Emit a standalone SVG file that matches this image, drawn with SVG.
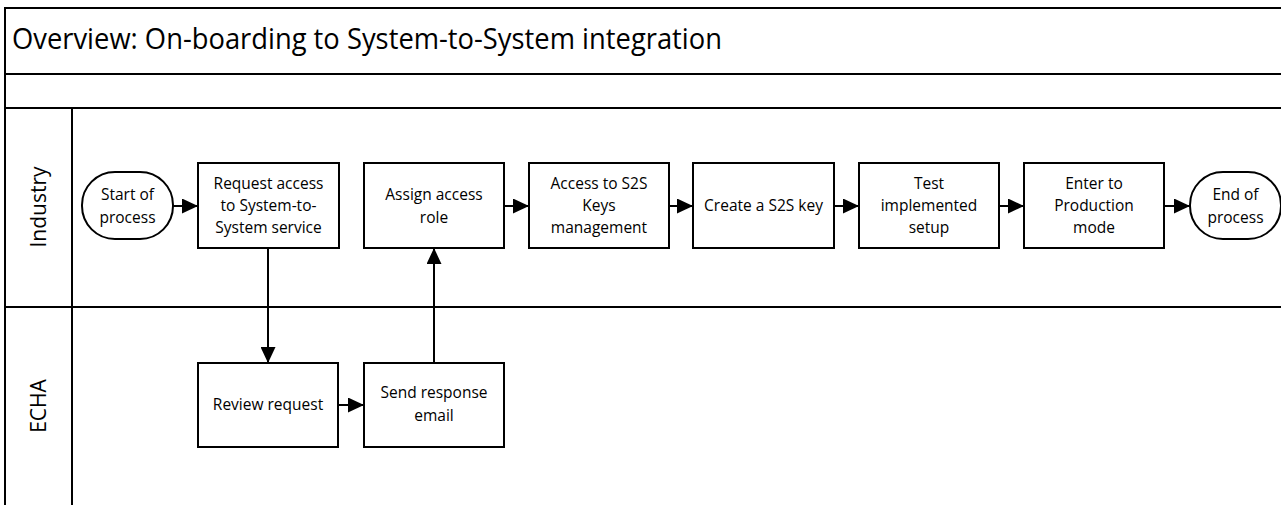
<svg xmlns="http://www.w3.org/2000/svg" width="1281" height="505" viewBox="0 0 1281 505">
<style>
.frame{fill:none;stroke:#000;stroke-width:2}
.box{fill:#fff;stroke:#000;stroke-width:2}
.t{font-family:"Open Sans","Liberation Sans",sans-serif;font-size:15.5px;fill:#000;text-anchor:middle}
.lane{font-family:"Open Sans","Liberation Sans",sans-serif;font-size:21px;fill:#000;text-anchor:middle}
.title{font-family:"Open Sans","Liberation Sans",sans-serif;font-size:30px;fill:#000}
.c{fill:none;stroke:#000;stroke-width:2}
</style>
<defs>
<marker id="ah" markerWidth="16" markerHeight="15" refX="16" refY="7.5" orient="auto" markerUnits="userSpaceOnUse">
<path d="M0,0 L16,7.5 L0,15 Z" fill="#000"/>
</marker>
</defs>
<rect x="0" y="0" width="1281" height="505" fill="#fff"/>
<g id="pool">
<path class="frame" d="M1282,8 H5 V506"/>
<line class="frame" x1="5" y1="74" x2="1282" y2="74" stroke-width="2.4"/>
<line class="frame" x1="5" y1="108" x2="1282" y2="108"/>
<line class="frame" x1="72" y1="108" x2="72" y2="506"/>
<line class="frame" x1="5" y1="307" x2="1282" y2="307"/>
<text class="title" x="12" y="49" textLength="710" lengthAdjust="spacingAndGlyphs">Overview: On-boarding to System-to-System integration</text>
<text class="lane" transform="translate(46,207) rotate(-90)">Industry</text>
<text class="lane" transform="translate(46,406) rotate(-90)">ECHA</text>
</g>
<g id="connectors">
<line class="c" x1="173" y1="206" x2="198" y2="206" marker-end="url(#ah)"/>
<line class="c" x1="504" y1="206" x2="529" y2="206" marker-end="url(#ah)"/>
<line class="c" x1="669" y1="206" x2="693" y2="206" marker-end="url(#ah)"/>
<line class="c" x1="834" y1="206" x2="859" y2="206" marker-end="url(#ah)"/>
<line class="c" x1="999" y1="206" x2="1024" y2="206" marker-end="url(#ah)"/>
<line class="c" x1="1164" y1="206" x2="1190" y2="206" marker-end="url(#ah)"/>
<line class="c" x1="268" y1="248" x2="268" y2="363" marker-end="url(#ah)"/>
<line class="c" x1="338" y1="405" x2="364" y2="405" marker-end="url(#ah)"/>
<line class="c" x1="434" y1="363" x2="434" y2="248" marker-end="url(#ah)"/>
</g>
<g id="start">
<rect class="box" x="82" y="172" width="91" height="67" rx="33" ry="33"/>
<text class="t" x="127.5" y="200">Start of</text>
<text class="t" x="127.5" y="223">process</text>
</g>
<g id="request">
<rect class="box" x="198" y="163" width="141" height="85"/>
<text class="t" x="268.5" y="189">Request access</text>
<text class="t" x="268.5" y="211">to System-to-</text>
<text class="t" x="268.5" y="233">System service</text>
</g>
<g id="assign">
<rect class="box" x="364" y="163" width="140" height="85"/>
<text class="t" x="434" y="200">Assign access</text>
<text class="t" x="434" y="223">role</text>
</g>
<g id="keys">
<rect class="box" x="529" y="163" width="140" height="85"/>
<text class="t" x="599" y="189">Access to S2S</text>
<text class="t" x="599" y="211">Keys</text>
<text class="t" x="599" y="233">management</text>
</g>
<g id="create">
<rect class="box" x="693" y="163" width="141" height="85"/>
<text class="t" x="763.5" y="211">Create a S2S key</text>
</g>
<g id="test">
<rect class="box" x="859" y="163" width="140" height="85"/>
<text class="t" x="929" y="189">Test</text>
<text class="t" x="929" y="211">implemented</text>
<text class="t" x="929" y="233">setup</text>
</g>
<g id="production">
<rect class="box" x="1024" y="163" width="140" height="85"/>
<text class="t" x="1094" y="189">Enter to</text>
<text class="t" x="1094" y="211">Production</text>
<text class="t" x="1094" y="233">mode</text>
</g>
<g id="end">
<rect class="box" x="1190" y="172" width="91" height="67" rx="33" ry="33"/>
<text class="t" x="1235.5" y="200">End of</text>
<text class="t" x="1235.5" y="223">process</text>
</g>
<g id="review">
<rect class="box" x="198" y="363" width="140" height="84"/>
<text class="t" x="268" y="410">Review request</text>
</g>
<g id="send">
<rect class="box" x="364" y="363" width="140" height="84"/>
<text class="t" x="434" y="398">Send response</text>
<text class="t" x="434" y="421">email</text>
</g>
</svg>
